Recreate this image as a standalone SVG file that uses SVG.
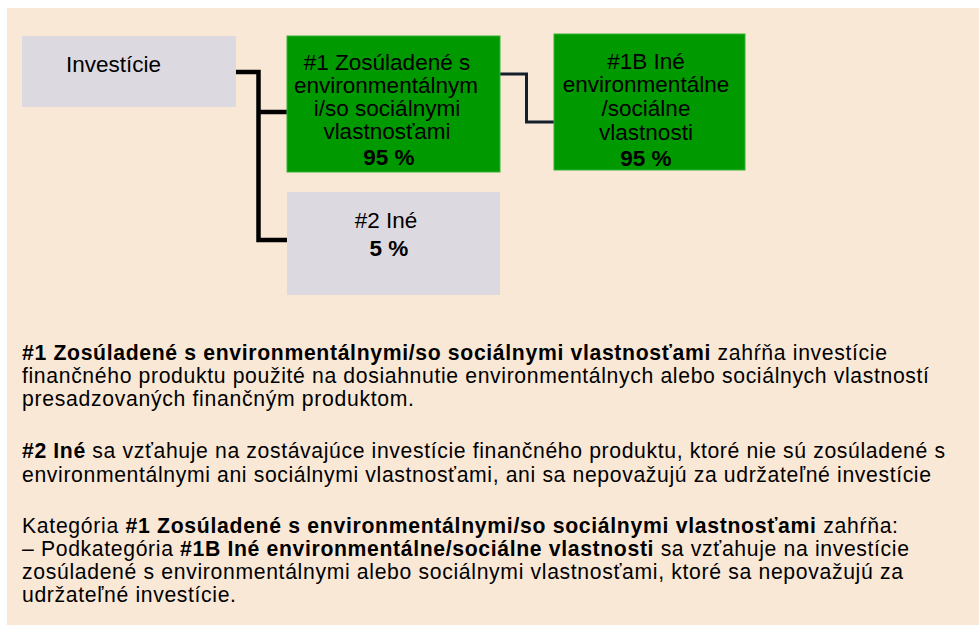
<svg xmlns="http://www.w3.org/2000/svg" width="979" height="625" viewBox="0 0 979 625">
<style>
text{font-family:"Liberation Sans",Arial,sans-serif;fill:#000}
.n{font-size:22.5px;text-anchor:middle}
.b{font-weight:bold}
.p{font-size:21.2px}
.gray{fill:#DCDAE0}
.green{fill:#009900;stroke:#33b533;stroke-width:1}
.c1{fill:none;stroke:#000;stroke-width:4.5}
.c2{fill:none;stroke:#151e2d;stroke-width:3}
</style>
<rect x="7" y="8" width="972" height="617" fill="#FAE8D7"/>
<g id="connectors">
<path class="c1" d="M236 72 H258.5 V240 H287 M258.5 112 H287"/>
<path class="c2" d="M500 74 H526.5 V122 H554"/>
</g>
<g id="investicie">
<rect class="gray" x="22" y="36" width="214" height="71"/>
<text x="66" y="72" style="font-size:22.5px">Investície</text>
</g>
<g id="n1">
<rect class="green" x="287" y="36" width="213" height="136"/>
<text class="n" x="387" y="70">#1 Zosúladené s</text>
<text class="n" x="386" y="93">environmentálnym</text>
<text class="n" x="387" y="116">i/so sociálnymi</text>
<text class="n" x="387" y="139">vlastnosťami</text>
<text class="n b" x="389" y="165">95 %</text>
</g>
<g id="n1b">
<rect class="green" x="554" y="34" width="191" height="136"/>
<text class="n" x="646" y="69">#1B Iné</text>
<text class="n" x="646" y="92">environmentálne</text>
<text class="n" x="646" y="116">/sociálne</text>
<text class="n" x="646" y="140">vlastnosti</text>
<text class="n b" x="646" y="166">95 %</text>
</g>
<g id="n2">
<rect class="gray" x="287" y="192" width="213" height="103"/>
<text class="n" x="386" y="228">#2 Iné</text>
<text class="n b" x="389" y="256">5 %</text>
</g>
<g id="legend">
<text class="p" x="22" y="360" textLength="865" lengthAdjust="spacing"><tspan class="b">#1 Zosúladené s environmentálnymi/so sociálnymi vlastnosťami</tspan> zahŕňa investície</text>
<text class="p" x="22" y="383" textLength="907" lengthAdjust="spacing">finančného produktu použité na dosiahnutie environmentálnych alebo sociálnych vlastností</text>
<text class="p" x="22" y="406" textLength="392" lengthAdjust="spacing">presadzovaných finančným produktom.</text>
<text class="p" x="22" y="458" textLength="923" lengthAdjust="spacing"><tspan class="b">#2 Iné</tspan> sa vzťahuje na zostávajúce investície finančného produktu, ktoré nie sú zosúladené s</text>
<text class="p" x="22" y="482" textLength="909" lengthAdjust="spacing">environmentálnymi ani sociálnymi vlastnosťami, ani sa nepovažujú za udržateľné investície</text>
<text class="p" x="22" y="533" textLength="876" lengthAdjust="spacing">Kategória <tspan class="b">#1 Zosúladené s environmentálnymi/so sociálnymi vlastnosťami</tspan> zahŕňa:</text>
<text class="p" x="22" y="556" textLength="887" lengthAdjust="spacing">– Podkategória <tspan class="b">#1B Iné environmentálne/sociálne vlastnosti</tspan> sa vzťahuje na investície</text>
<text class="p" x="22" y="579" textLength="881" lengthAdjust="spacing">zosúladené s environmentálnymi alebo sociálnymi vlastnosťami, ktoré sa nepovažujú za</text>
<text class="p" x="22" y="602" textLength="214" lengthAdjust="spacing">udržateľné investície.</text>
</g>
</svg>
